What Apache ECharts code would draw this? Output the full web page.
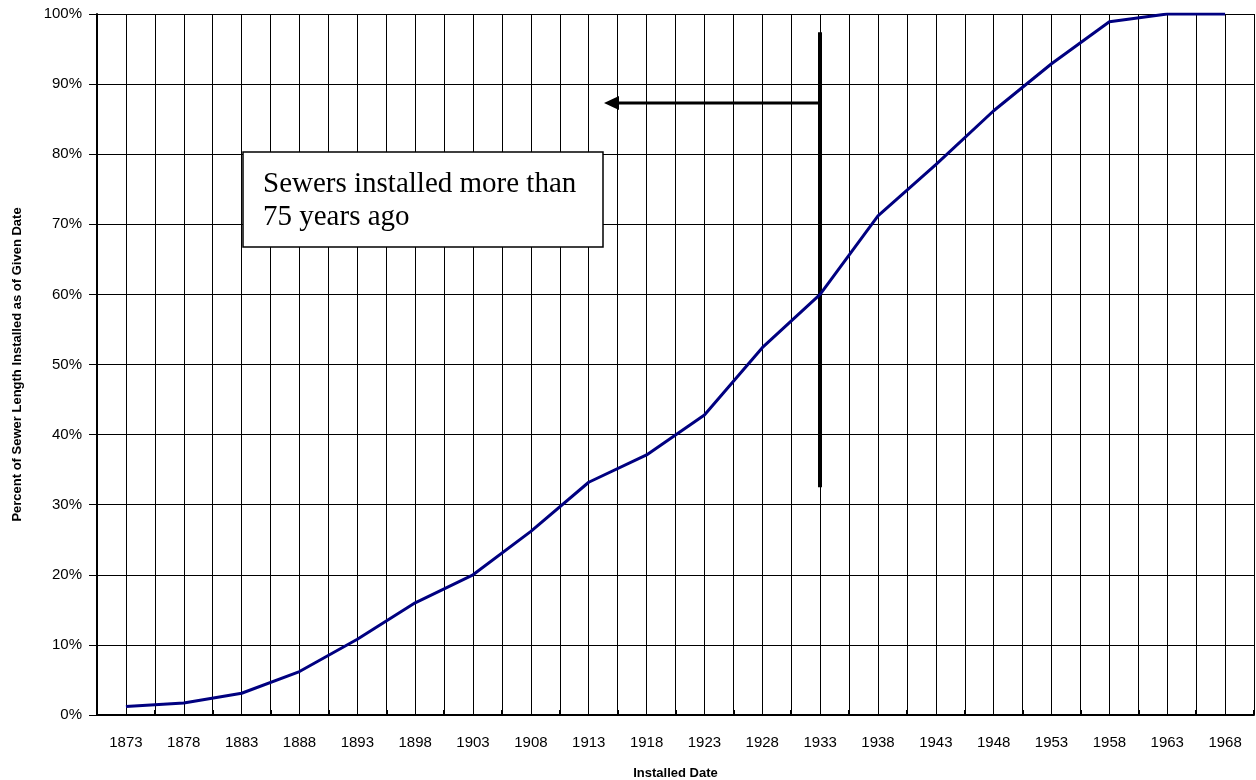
<!DOCTYPE html>
<html>
<head>
<meta charset="utf-8">
<script src="https://cdn.jsdelivr.net/npm/echarts@6/dist/echarts.min.js"></script>
<style>
  html, body { margin: 0; padding: 0; background: #fff; }
  #chart { width: 1256px; height: 780px; }
</style>
</head>
<body>
<div id="chart"></div>
<script>
// installed year (every 5 years)
const years = ['1873','1878','1883','1888','1893','1898','1903','1908','1913','1918',
               '1923','1928','1933','1938','1943','1948','1953','1958','1963','1968'];
// cumulative percent of sewer length installed
const percentInstalled = [1.2, 1.7, 3.1, 6.2, 10.8, 16.0, 20.0, 26.2, 33.2, 37.1,
                          42.8, 52.4, 60.0, 71.2, 78.5, 86.2, 92.9, 98.9, 100, 100];
const yTicks = [0, 10, 20, 30, 40, 50, 60, 70, 80, 90, 100];
const markerYear = '1933';
const markerRange = [32.5, 97.4];
const noteText = 'Sewers installed more than\n75 years ago';

// half-step helper axis: one line per category edge and centre
const halfSteps = [];
for (let i = 0; i <= years.length * 2; i++) halfSteps.push('');

const chart = echarts.init(document.getElementById('chart'));

const option = {
  animation: false,
  backgroundColor: '#fff',
  grid: { left: 97, right: 2, top: 14, bottom: 65, containLabel: false, outerBoundsMode: 'none' },
  xAxis: [
    {
      type: 'category',
      data: years,
      boundaryGap: true,
      name: 'Installed Date',
      nameLocation: 'middle',
      nameGap: 52,
      nameTextStyle: { fontFamily: 'Liberation Sans', fontWeight: 'bold', fontSize: 13, color: '#000' },
      axisLine: { lineStyle: { color: '#000', width: 2 } },
      axisTick: { show: true, inside: true, length: 5, interval: 0, lineStyle: { color: '#000', width: 2 } },
      axisLabel: { interval: 0, margin: 20, fontFamily: 'Liberation Sans', fontSize: 15, color: '#000' },
      splitLine: { show: true, interval: 0, lineStyle: { color: '#000', width: 1 } }
    },
    {
      type: 'category',
      data: halfSteps,
      boundaryGap: false,
      position: 'bottom',
      axisLine: { show: false },
      axisTick: { show: false },
      axisLabel: { show: false },
      splitLine: { show: true, interval: 0, lineStyle: { color: '#000', width: 1 } }
    }
  ],
  yAxis: {
    type: 'value',
    min: 0,
    max: 100,
    interval: 10,
    name: 'Percent of Sewer Length Installed as of Given Date',
    nameLocation: 'middle',
    nameGap: 73,
    nameTextStyle: { fontFamily: 'Liberation Sans', fontWeight: 'bold', fontSize: 13, color: '#000' },
    axisLine: { show: true, lineStyle: { color: '#000', width: 2 } },
    axisTick: { show: true, length: 8, lineStyle: { color: '#000', width: 1 } },
    axisLabel: {
      margin: 15, fontFamily: 'Liberation Sans', fontSize: 15, color: '#000',
      formatter: v => yTicks.includes(v) ? v + '%' : ''
    },
    splitLine: { show: true, lineStyle: { color: '#000', width: 1 } }
  },
  series: [
    {
      type: 'line',
      xAxisIndex: 0,
      data: percentInstalled,
      symbol: 'none',
      lineStyle: { color: '#000080', width: 3 },
      z: 5,
      markLine: {
        silent: true,
        symbol: ['none', 'none'],
        label: { show: false },
        lineStyle: { color: '#000', width: 4, type: 'solid' },
        data: [
          [{ coord: [markerYear, markerRange[0]] }, { coord: [markerYear, markerRange[1]] }]
        ]
      }
    }
  ],
  graphic: [
    // arrow pointing to older installs
    {
      type: 'line', z: 10,
      shape: { x1: 820, y1: 103, x2: 616, y2: 103 },
      style: { stroke: '#000', lineWidth: 3 }
    },
    {
      type: 'polygon', z: 10,
      shape: { points: [[604, 103], [619, 96], [619, 110]] },
      style: { fill: '#000' }
    },
    // note box
    {
      type: 'rect', z: 10,
      shape: { x: 243, y: 152, width: 360, height: 95 },
      style: { fill: '#fff', stroke: '#000', lineWidth: 1.5 }
    },
    {
      type: 'text', z: 11,
      left: 263, top: 168,
      style: {
        text: noteText,
        font: '29px "Liberation Serif"',
        fill: '#000',
        lineHeight: 33
      }
    }
  ]
};

chart.setOption(option);
</script>
</body>
</html>
